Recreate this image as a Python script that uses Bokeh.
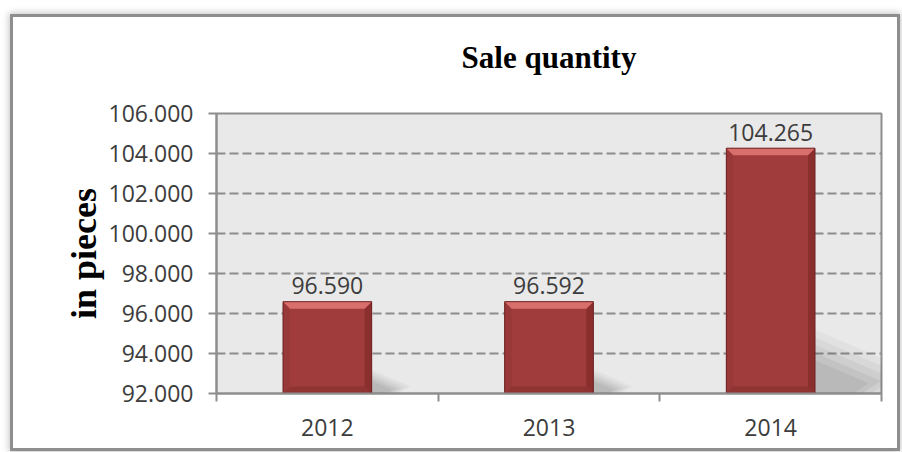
from bokeh.plotting import figure
from bokeh.models import FixedTicker, Range1d, LinearAxis
from bokeh.embed import file_html
from bokeh.resources import INLINE
from bokeh.core.properties import value

# ---- data ----
years = ["2012", "2013", "2014"]
quantities = [96590, 96592, 104265]
value_labels = ["96.590", "96.592", "104.265"]
y_ticks = [92000, 94000, 96000, 98000, 100000, 102000, 104000, 106000]
y_tick_labels = ["92.000", "94.000", "96.000", "98.000", "100.000", "102.000", "104.000", "106.000"]
title_text = "Sale quantity"
y_axis_title = "in pieces"

Y_MIN, Y_MAX = 92000, 106000
BAR_W = 0.4

W, H = 884, 431
ML, MR, MT, MB = 203, 16, 96, 55
frame_w = W - ML - MR
frame_h = H - MT - MB
px_per_x = frame_w / len(years)
px_per_y = frame_h / (Y_MAX - Y_MIN)

p = figure(width=W, height=H, x_range=Range1d(0, len(years)), y_range=Range1d(Y_MIN, Y_MAX),
           output_backend="svg", toolbar_location=None,
           min_border_left=ML, min_border_right=MR, min_border_top=MT, min_border_bottom=MB,
           background_fill_color="#e9e9e9", border_fill_color="white",
           styles={"position": "relative", "left": "13px", "top": "17px",
                   "box-shadow": "0 0 0 3px #8e8e8e, 0 0 7px 4px #c4c4c4"})

p.outline_line_color = "#8e8e8e"
p.outline_line_width = 2

# title: drawn as the label of a bare axis above the plot area
title_axis = LinearAxis(ticker=FixedTicker(ticks=[]), axis_line_color=None,
                        major_tick_line_color=None, minor_tick_line_color=None,
                        major_tick_out=0, major_tick_in=0, minor_tick_out=0, minor_tick_in=0,
                        major_label_standoff=0, major_label_text_font_size="0px",
                        axis_label=title_text, axis_label_standoff=39,
                        axis_label_text_font="Liberation Serif", axis_label_text_font_style="bold",
                        axis_label_text_font_size="31px", axis_label_text_color="black")
p.add_layout(title_axis, "above")

# grid
p.xgrid.visible = False
p.ygrid.ticker = FixedTicker(ticks=y_ticks)
p.ygrid.grid_line_color = "#8c8c8c"
p.ygrid.grid_line_width = 2
p.ygrid.grid_line_dash = "9 4"

# y axis
p.yaxis.ticker = FixedTicker(ticks=y_ticks)
p.yaxis.major_label_overrides = {t: l for t, l in zip(y_ticks, y_tick_labels)}
p.yaxis.axis_line_color = "#8e8e8e"
p.yaxis.axis_line_width = 2
p.yaxis.major_tick_line_color = "#8e8e8e"
p.yaxis.major_tick_line_width = 2
p.yaxis.major_tick_out = 8
p.yaxis.major_tick_in = 0
p.yaxis.minor_tick_line_color = None
p.yaxis.major_label_text_font = "Open Sans"
p.yaxis.major_label_text_font_size = "23px"
p.yaxis.major_label_text_color = "#3c3c3c"
p.yaxis.major_label_standoff = 15
p.yaxis.axis_label = y_axis_title
p.yaxis.axis_label_text_font = "Liberation Serif"
p.yaxis.axis_label_text_font_style = "bold"
p.yaxis.axis_label_text_font_size = "36px"
p.yaxis.axis_label_text_color = "black"
p.yaxis.axis_label_standoff = 2

# x axis: labels at category centres, ticks at boundaries
centers = [i + 0.5 for i in range(len(years))]
bounds = [float(i) for i in range(len(years) + 1)]
xaxis = p.below[0]
xaxis.ticker = FixedTicker(ticks=centers, minor_ticks=bounds)
xaxis.major_label_overrides = {c: y for c, y in zip(centers, years)}
xaxis.axis_line_color = "#8e8e8e"
xaxis.axis_line_width = 2
xaxis.major_tick_line_color = None
xaxis.major_tick_out = 0
xaxis.major_tick_in = 0
xaxis.minor_tick_line_color = "#8e8e8e"
xaxis.minor_tick_line_width = 2
xaxis.minor_tick_out = 8
xaxis.minor_tick_in = 0
xaxis.major_label_text_font = "Open Sans"
xaxis.major_label_text_font_size = "23px"
xaxis.major_label_text_color = "#3c3c3c"
xaxis.major_label_standoff = 17

# shadows (layered soft patches)
for s, a in [(1.0, 0.05), (0.88, 0.06), (0.76, 0.07), (0.64, 0.08), (0.52, 0.08)]:
    sxs, sys = [], []
    for c, q in zip(centers, quantities):
        h = q - Y_MIN
        hx = h * px_per_y / px_per_x
        r = c + BAR_W / 2
        sxs.append([r, r, r + 0.42 * hx * s, r + 0.3 * hx * s])
        sys.append([Y_MIN, Y_MIN + 0.26 * h * s, Y_MIN + 0.08 * h * s, Y_MIN])
    p.patches(sxs, sys, fill_color="#505050", fill_alpha=a, line_color=None)

# bars
p.vbar(x=centers, top=quantities, bottom=Y_MIN, width=BAR_W, fill_color="#a03c3c", line_color=None)

# bevel
bx = 7 / px_per_x
by = 7 / px_per_y
top_x, top_y, rt_x, rt_y, bt_x, bt_y, lf_x, lf_y = [], [], [], [], [], [], [], []
for c, q in zip(centers, quantities):
    l, r = c - BAR_W / 2, c + BAR_W / 2
    top_x.append([l, r, r - bx, l + bx]); top_y.append([q, q, q - by, q - by])
    rt_x.append([r, r, r - bx, r - bx]); rt_y.append([q, Y_MIN, Y_MIN + by, q - by])
    bt_x.append([l, r, r - bx, l + bx]); bt_y.append([Y_MIN, Y_MIN, Y_MIN + by, Y_MIN + by])
    lf_x.append([l, l, l + bx, l + bx]); lf_y.append([q, Y_MIN, Y_MIN + by, q - by])
p.patches(lf_x, lf_y, fill_color="#983838", line_color=None)
p.patches(bt_x, bt_y, fill_color="#8f3333", line_color=None)
p.patches(rt_x, rt_y, fill_color="#8a2e2e", line_color=None)
p.patches(top_x, top_y, fill_color="#d86f6c", line_color=None)
p.vbar(x=centers, top=quantities, bottom=Y_MIN, width=BAR_W, fill_color=None,
       line_color="#6e2222", line_width=1)

# value labels
p.text(x=centers, y=quantities, text=value_labels, text_align="center", text_baseline="alphabetic",
       y_offset=-16, text_font=value("Open Sans"), text_font_size="23px", text_color="#3c3c3c")

open("out.html", "w").write(file_html(p, INLINE))
